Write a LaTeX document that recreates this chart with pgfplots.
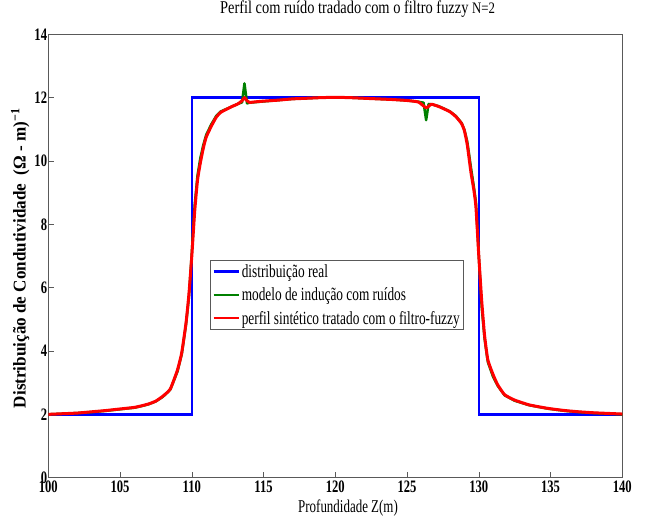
\documentclass[border=0pt]{standalone}
\usepackage{fontspec}
\setmainfont{Liberation Serif}[FakeStretch=0.72]
\newfontfamily\ylfont{Liberation Serif}[FakeStretch=0.95]
\newfontfamily\ttlfont{Liberation Serif}[FakeStretch=0.8]
\usepackage{pgfplots}
\pgfplotsset{compat=1.18}

\pgfplotstableread{
x y
100 2
110 2
110 12
130 12
130 2
140 2
}\real

\pgfplotstableread{
x y
100 2.00
101 2.02
102 2.04
103 2.07
104 2.11
105 2.16
106 2.21
106.5 2.26
107 2.32
107.5 2.41
108 2.56
108.5 2.78
109 3.35
109.3 3.90
109.6 4.85
109.8 5.70
110 7.10
110.2 8.60
110.4 9.55
110.6 10.10
110.8 10.50
111 10.82
111.35 11.15
111.7 11.42
112 11.56
112.4 11.64
112.8 11.72
113.2 11.80
113.5 11.85
113.67 12.45
113.85 11.82
114.02 11.84
114.5 11.86
115 11.88
116 11.92
117 11.96
118 11.98
119 12.00
120 12.01
121 12.00
122 11.98
123 11.96
124 11.94
125 11.91
125.8 11.87
126.15 11.84
126.33 11.29
126.5 11.80
126.7 11.79
127.2 11.73
127.6 11.65
128 11.56
128.4 11.42
128.8 11.20
129 10.98
129.2 10.60
129.45 9.80
129.65 9.20
129.8 8.70
130 7.00
130.2 5.40
130.4 4.40
130.63 3.65
131 3.18
131.32 2.90
131.8 2.60
132.5 2.43
133.5 2.29
134.8 2.18
136 2.11
137 2.07
138 2.04
139 2.02
140 2.00
}\ruido

\pgfplotstableread{
x y
100 2.00
101 2.02
102 2.04
103 2.08
104 2.12
105 2.17
106 2.22
106.5 2.27
107 2.33
107.5 2.42
108 2.58
108.5 2.80
109 3.40
109.3 3.95
109.6 4.90
109.8 5.80
110 7.00
110.2 8.40
110.4 9.40
110.6 9.95
110.8 10.40
111 10.75
111.35 11.09
111.7 11.38
112 11.53
112.4 11.63
112.8 11.72
113.2 11.80
113.5 11.90
113.67 12.00
113.85 11.90
114.02 11.85
114.5 11.87
115 11.89
116 11.92
117 11.96
118 11.98
119 12.00
120 12.01
121 12.00
122 11.98
123 11.96
124 11.94
125 11.91
125.8 11.86
126.33 11.68
126.7 11.79
127.2 11.72
127.6 11.64
128 11.55
128.4 11.40
128.8 11.18
129 10.95
129.2 10.50
129.45 9.65
129.65 9.10
129.8 8.55
130 7.00
130.2 5.60
130.4 4.50
130.63 3.72
131 3.25
131.32 2.93
131.8 2.62
132.5 2.45
133.5 2.30
134.8 2.19
136 2.12
137 2.08
138 2.05
139 2.03
140 2.01
}\fuzzy

\begin{document}
\begin{tikzpicture}
\useasboundingbox (-48.3pt,-40.3pt) rectangle (596.7pt,477.7pt);
\begin{axis}[
    at={(0,0)}, anchor=south west,
    scale only axis, width=574pt, height=443.4pt,
    xmin=100, xmax=140, ymin=0, ymax=14,
    xtick={100,105,...,140}, ytick={0,2,...,14},
    xtick pos=lower, ytick pos=left, tick align=inside,
    major tick length=6pt,
    axis line style={gray!70!black, line width=0.8pt},
    every tick/.style={gray!70!black, line width=0.6pt},
    /pgf/number format/assume math mode=true,
    ticklabel style={font=\fontsize{17.5}{17.5}\selectfont\bfseries},
    xticklabel style={inner sep=1pt, yshift=-2pt},
    yticklabel style={inner sep=1pt},
    title={\ttlfont Perfil com ruído tradado com o filtro fuzzy {\fontsize{16}{16}\selectfont N=2}},
    title style={at={(axis description cs:0.299,1.043)}, anchor=west,
        font=\fontsize{18}{18}\selectfont, inner sep=0pt},
    xlabel={Profundidade Z(m)},
    xlabel style={at={(axis description cs:0.435,-0.068)}, anchor=west,
        font=\fontsize{18}{18}\selectfont, inner sep=0pt},
    ylabel={\ylfont Distribuição de Condutividade~~(Ω - m)\textsuperscript{−1}},
    ylabel style={at={(axis description cs:-0.049,0.495)}, anchor=center,
        font=\fontsize{18}{18}\selectfont\bfseries, inner sep=0pt},
    legend style={at={(rel axis cs:0.2817,0.491)}, anchor=north west,
        draw=gray!70!black, line width=0.6pt,
        font=\fontsize{18.5}{20}\selectfont, cells={anchor=west},
        row sep=5pt, inner sep=2pt},
    legend image code/.code={\draw[#1, line width=2.5pt] (0pt,0pt) -- (25pt,0pt);},
]
\addplot[blue, line width=2.5pt] table[x=x, y=y] {\real};
\addplot[green!50!black, line width=2.5pt, line join=round] table[x=x, y=y] {\ruido};
\addplot[red, line width=3pt, line join=round, smooth, tension=0.3] table[x=x, y=y] {\fuzzy};
\legend{distribuição real, modelo de indução com ruídos, perfil sintético tratado com o filtro-fuzzy}
\end{axis}
\end{tikzpicture}
\end{document}
